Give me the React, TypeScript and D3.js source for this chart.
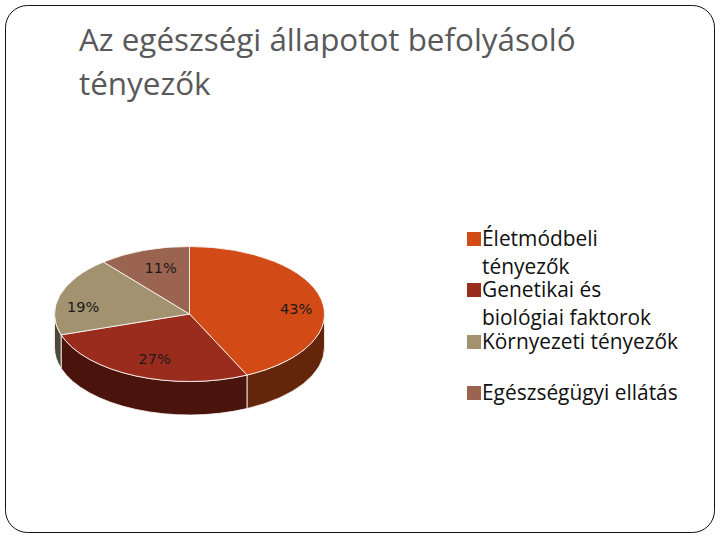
import React from 'react';
import * as d3 from 'd3';

const categories = ['Életmódbeli tényezők', 'Genetikai és biológiai faktorok', 'Környezeti tényezők', 'Egészségügyi ellátás'];
const values = [43, 27, 19, 11];
const topColors = ['#d24a15', '#9a2c1d', '#a3926f', '#9a6450'];
const sideColors = ['#64260a', '#4a140c', '#4f4a38', '#4d3228'];
const legendLines = [['Életmódbeli', 'tényezők'], ['Genetikai és', 'biológiai faktorok'], ['Környezeti tényezők'], ['Egészségügyi ellátás']];
const titleLines = ['Az egészségi állapotot befolyásoló', 'tényezők'];

const WIDTH = 720;
const HEIGHT = 540;
const cx = 189.5;
const cy = 314;
const rx = 135;
const ry = 67.5;
const depth = 33.5;

// how far out each % label sits along its slice, and a nudge for the fake 3D
const labelFactor = [0.81, 0.65, 0.82, 0.63];
const labelNudge = [6.5, 4.5, 8, -6];
const legendBaselines = [[246, 274], [297, 325], [349], [400]];

const pieGen = d3.pie<number>().sort(null).startAngle(0).endAngle(2 * Math.PI);
const slices = pieGen(values);

const px = (a: number, f = 1) => cx + Math.sin(a) * rx * f;
const py = (a: number, f = 1) => cy - Math.cos(a) * ry * f;

function topPath(s: d3.PieArcDatum<number>) {
  const large = s.endAngle - s.startAngle > Math.PI ? 1 : 0;
  return `M${cx},${cy}L${px(s.startAngle)},${py(s.startAngle)}A${rx},${ry} 0 ${large} 1 ${px(s.endAngle)},${py(s.endAngle)}Z`;
}

// only the front half of the rim is visible
function sidePath(s: d3.PieArcDatum<number>) {
  const a0 = Math.max(s.startAngle, Math.PI / 2);
  const a1 = Math.min(s.endAngle, (3 * Math.PI) / 2);
  if (a1 <= a0) return null;
  return `M${px(a0)},${py(a0)}A${rx},${ry} 0 0 1 ${px(a1)},${py(a1)}L${px(a1)},${py(a1) + depth}A${rx},${ry} 0 0 0 ${px(a0)},${py(a0) + depth}Z`;
}

export default function App() {
  const font = "'Open Sans', sans-serif";
  return (
    <svg width={WIDTH} height={HEIGHT} style={{ position: 'absolute', left: 0, top: 0, background: '#fff' }}>
      <rect x={5.5} y={5.5} width={709} height={527} rx={22} fill="#fff" stroke="#111" strokeWidth={1} />

      {titleLines.map((t, i) => (
        <text key={t} x={79} y={51 + i * 44} fontFamily={font} fontSize={31.4} fill="#595959">{t}</text>
      ))}

      {slices.map((s, i) => {
        const d = sidePath(s);
        return d ? <path key={i} d={d} fill={sideColors[i]} stroke="#fff" strokeWidth={0.8} /> : null;
      })}
      {slices.map((s, i) => (
        <path key={i} d={topPath(s)} fill={topColors[i]} stroke="#fff" strokeWidth={0.8} />
      ))}
      {slices.map((s, i) => {
        const mid = (s.startAngle + s.endAngle) / 2;
        return (
          <text key={i} x={px(mid, labelFactor[i])} y={py(mid, labelFactor[i]) + labelNudge[i] + 5}
            textAnchor="middle" fontFamily="'DejaVu Sans', sans-serif" fontSize={14.5} fill="#1a1a1a">
            {s.value}%
          </text>
        );
      })}

      {categories.map((c, i) => (
        <g key={c}>
          <rect x={467} y={legendBaselines[i][0] - 14} width={14} height={14} fill={topColors[i]} />
          {legendLines[i].map((l, j) => (
            <text key={l} x={482} y={legendBaselines[i][j]} fontFamily={font} fontSize={20.9} fill="#111">{l}</text>
          ))}
        </g>
      ))}
    </svg>
  );
}
